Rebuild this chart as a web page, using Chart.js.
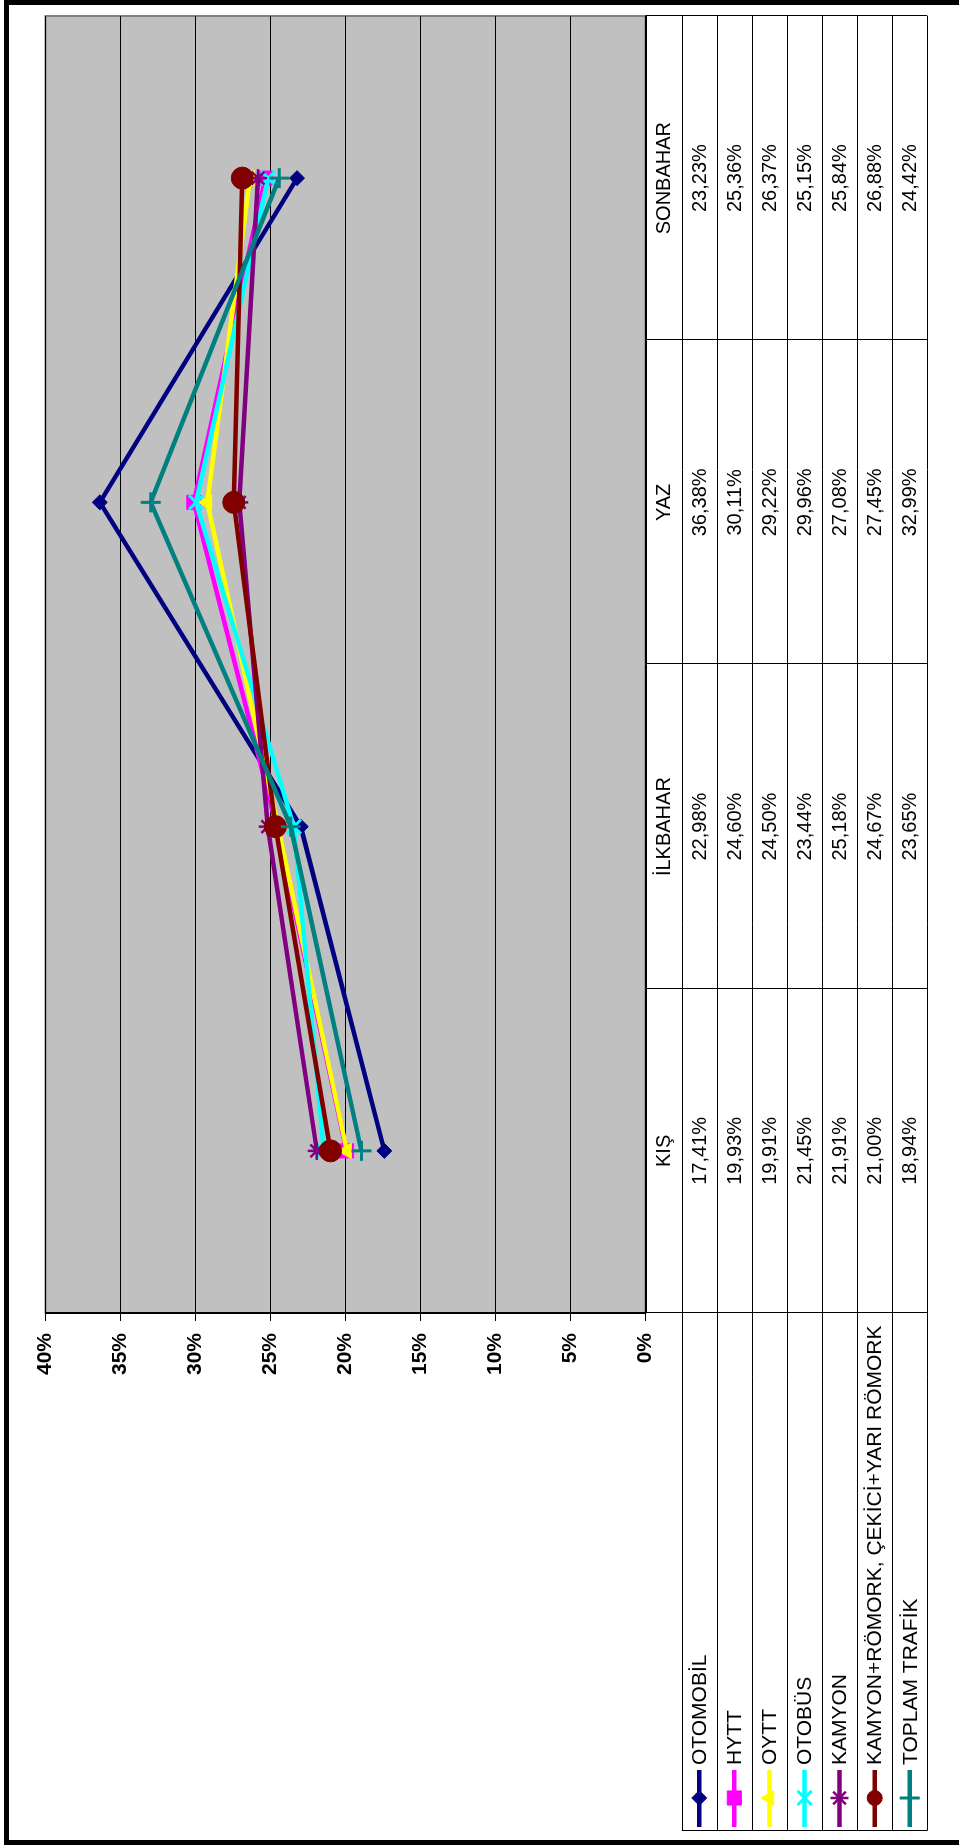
<!DOCTYPE html>
<html>
<head>
<meta charset="utf-8">
<script src="https://cdn.jsdelivr.net/npm/chart.js@4.4.1/dist/chart.umd.min.js"></script>
<style>
html, body { margin: 0; padding: 0; background: #fff; overflow: hidden; }
#wrap { position: absolute; left: 0; top: 0; width: 1845px; height: 959px;
        transform-origin: 0 0; transform: translate(0, 1845px) rotate(-90deg); }
canvas { display: block; }
</style>
</head>
<body>
<div id="wrap"><canvas id="mevsimler" width="1845" height="959"></canvas></div>
<script>
// veriler
const seasons = ["KIŞ", "İLKBAHAR", "YAZ", "SONBAHAR"];
const seriesNames = ["OTOMOBİL", "HYTT", "OYTT", "OTOBÜS", "KAMYON",
  "KAMYON+RÖMORK, ÇEKİCİ+YARI RÖMORK", "TOPLAM TRAFİK"];
const otomobil = [17.41, 22.98, 36.38, 23.23];
const hytt = [19.93, 24.60, 30.11, 25.36];
const oytt = [19.91, 24.50, 29.22, 26.37];
const otobus = [21.45, 23.44, 29.96, 25.15];
const kamyon = [21.91, 25.18, 27.08, 25.84];
const romork = [21.00, 24.67, 27.45, 26.88];
const toplam = [18.94, 23.65, 32.99, 24.42];
const yTicks = [0, 5, 10, 15, 20, 25, 30, 35, 40];

// stiller
const FONT = '"Liberation Sans", Arial, sans-serif';
const styles = [
  { color: "#000080", point: "rectRot", r: 7.5, bw: 1, lr: 7.5 },
  { color: "#ff00ff", point: "rect", r: 10, bw: 1, lr: 10 },
  { color: "#ffff00", point: "triangle", r: 9, bw: 1, lr: 8.5 },
  { color: "#00ffff", point: "crossRot", r: 10, bw: 3, lr: 10 },
  { color: "#800080", point: "star", r: 9, bw: 2.5, lr: 9 },
  { color: "#800000", point: "circle", r: 11, bw: 1, lr: 7.5 },
  { color: "#008080", point: "cross", r: 10, bw: 3, lr: 10 }
];
const allValues = [otomobil, hytt, oytt, otobus, kamyon, romork, toplam];

const fmt = (v) => v.toFixed(2).replace(".", ",") + "%";

const tablePlugin = {
  id: "veriTablosu",
  beforeDraw(chart) {
    const c = chart.ctx, a = chart.chartArea;
    c.save();
    c.fillStyle = "#fff";
    c.fillRect(0, 0, chart.width, chart.height);
    c.fillStyle = "#c0c0c0";
    c.fillRect(a.left, a.top, a.right - a.left, a.bottom - a.top);
    c.strokeStyle = "#808080";
    c.lineWidth = 2;
    c.strokeRect(a.left, a.top, a.right - a.left, a.bottom - a.top);
    c.restore();
  },
  afterDraw(chart) {
    const c = chart.ctx, a = chart.chartArea;
    const tLeft = 14.5, headH = 36.2, rowH = 35.09;
    const band = (a.right - a.left) / seasons.length;
    const bottom = a.bottom + headH + rowH * seriesNames.length;
    c.save();
    c.strokeStyle = "#000";
    c.lineWidth = 1;
    c.beginPath();
    // kategori ekseni
    c.moveTo(a.left, Math.round(a.bottom) + 0.5);
    c.lineTo(a.right, Math.round(a.bottom) + 0.5);
    for (let i = 0; i <= seriesNames.length; i++) {
      const y = Math.round(a.bottom + headH + rowH * i) + 0.5;
      c.moveTo(tLeft, y);
      c.lineTo(a.right, y);
    }
    c.moveTo(tLeft, a.bottom + headH);
    c.lineTo(tLeft, bottom);
    for (let i = 0; i <= seasons.length; i++) {
      const x = Math.round(a.left + band * i) + 0.5;
      c.moveTo(x, a.bottom);
      c.lineTo(x, bottom);
    }
    c.stroke();

    c.fillStyle = "#000";
    c.font = "20px " + FONT;
    c.textAlign = "center";
    c.textBaseline = "middle";
    seasons.forEach((s, i) => {
      c.fillText(s, a.left + band * (i + 0.5), a.bottom + headH / 2 + 1);
    });
    allValues.forEach((vals, r) => {
      const y = a.bottom + headH + rowH * (r + 0.5) + 1;
      vals.forEach((v, i) => c.fillText(fmt(v), a.left + band * (i + 0.5), y));
    });
    c.textAlign = "left";
    c.font = "21px " + FONT;
    seriesNames.forEach((name, r) => {
      const y = a.bottom + headH + rowH * (r + 0.5);
      const st = styles[r];
      c.fillStyle = "#000";
      c.fillText(name, 80, y + 1);
      c.strokeStyle = st.color;
      c.lineWidth = 4.5;
      c.beginPath();
      c.moveTo(18, y);
      c.lineTo(75, y);
      c.stroke();
      c.fillStyle = st.color;
      c.lineWidth = st.bw;
      if (Chart.helpers && Chart.helpers.drawPoint) {
        Chart.helpers.drawPoint(c, { pointStyle: st.point, radius: st.lr, borderWidth: st.bw, rotation: 0 }, 47, y);
      } else {
        c.beginPath();
        c.arc(47, y, st.lr, 0, Math.PI * 2);
        c.fill();
      }
    });

    // dis cerceve
    c.strokeStyle = "#000";
    c.lineWidth = 5;
    c.strokeRect(2.5, 6.5, 1840, 1000);
    c.restore();
  }
};

const ctx = document.getElementById("mevsimler").getContext("2d");
const chart = new Chart(ctx, {
  type: "line",
  data: {
    labels: seasons,
    datasets: allValues.map((vals, i) => ({
      label: seriesNames[i],
      data: vals,
      borderColor: styles[i].color,
      backgroundColor: styles[i].color,
      pointBackgroundColor: styles[i].color,
      pointBorderColor: styles[i].color,
      pointStyle: styles[i].point,
      pointRadius: styles[i].r,
      pointBorderWidth: styles[i].bw,
      borderWidth: 4.5,
      tension: 0,
      fill: false,
      order: allValues.length - i
    }))
  },
  options: {
    responsive: false,
    devicePixelRatio: 1,
    animation: false,
    layout: { padding: { left: 0, right: 16, top: 45.5, bottom: 313.5 } },
    plugins: { legend: { display: false }, tooltip: { enabled: false } },
    scales: {
      x: { type: "category", offset: true, display: false },
      y: {
        min: 0,
        max: 40,
        afterBuildTicks: (s) => { s.ticks = yTicks.map((v) => ({ value: v })); },
        afterFit: (s) => { s.width = 532; },
        ticks: {
          color: "#000",
          padding: 12,
          font: { family: FONT, size: 21, weight: "bold" },
          callback: (v) => v + "%"
        },
        grid: { color: "#000", lineWidth: 1, tickLength: 8, drawTicks: true },
        border: { display: true, color: "#000", width: 2 }
      }
    }
  },
  plugins: [tablePlugin]
});
</script>
</body>
</html>
